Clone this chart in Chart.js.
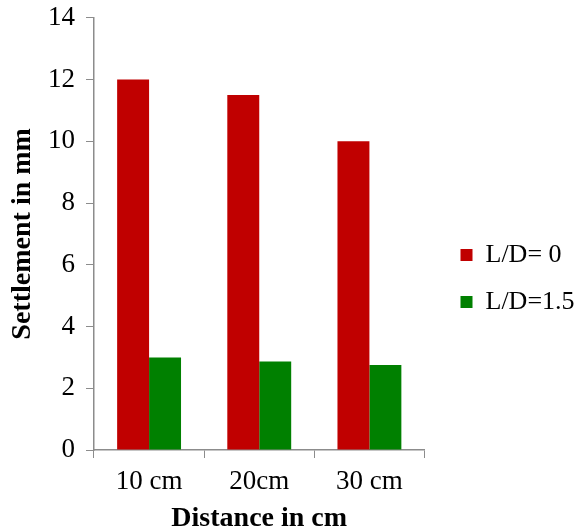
<!DOCTYPE html>
<html lang="en">
<head>
    <meta charset="UTF-8">
    <title>Settlement vs Distance</title>
    <style>
        body { margin: 0; background: #fff; }
        #wrap { width: 576px; height: 531px; }
    </style>
</head>
<body>
<div id="wrap"><canvas id="chart" width="576" height="531"></canvas></div>

<script src="https://cdn.jsdelivr.net/npm/chart.js"></script>
<script>
    const categories = ['10 cm', '20cm', '30 cm'];
    const ld0 = [12, 11.5, 10];
    const ld15 = [3.0, 2.87, 2.75];
    const yTicks = [0, 2, 4, 6, 8, 10, 12, 14];

    const serif = 'Liberation Serif, Times New Roman, serif';
    const axisGrey = '#8c8c8c';

    // nudge the legend block to the right / down after layout, keeps plot area where it is
    const legendNudge = {
        id: 'legendNudge',
        afterLayout(chart) {
            const lg = chart.legend;
            lg.left += 15; lg.right += 15;
            lg.top += 14; lg.bottom += 14;
        }
    };

    new Chart(document.getElementById('chart'), {
        type: 'bar',
        data: {
            labels: categories,
            datasets: [
                { label: 'L/D= 0', data: ld0, backgroundColor: '#c00000' },
                { label: 'L/D=1.5', data: ld15, backgroundColor: '#008000' }
            ]
        },
        plugins: [legendNudge],
        options: {
            responsive: false,
            animation: false,
            layout: { padding: { top: -4, right: 10, bottom: -2, left: 0 } },
            datasets: {
                bar: { categoryPercentage: 0.58, barPercentage: 1 }
            },
            plugins: {
                tooltip: { enabled: false },
                legend: {
                    position: 'right',
                    labels: {
                        color: '#000',
                        font: { family: serif, size: 26 },
                        boxWidth: 12,
                        boxHeight: 12,
                        padding: 21
                    }
                }
            },
            scales: {
                x: {
                    grid: { drawOnChartArea: false, color: axisGrey, tickLength: 8, offset: true },
                    border: { color: axisGrey, width: 1.5 },
                    ticks: { color: '#000', font: { family: serif, size: 27, lineHeight: 1 }, padding: 10 },
                    title: {
                        display: true,
                        text: 'Distance in cm',
                        color: '#000',
                        font: { family: serif, size: 28, weight: 'bold', lineHeight: 1 },
                        padding: { top: 0, bottom: 0 }
                    }
                },
                y: {
                    min: 0,
                    max: 14,
                    afterBuildTicks: axis => { axis.ticks = yTicks.map(v => ({ value: v })); },
                    grid: { drawOnChartArea: false, color: axisGrey, tickLength: 8 },
                    border: { color: axisGrey, width: 1.5 },
                    ticks: { color: '#000', font: { family: serif, size: 27, lineHeight: 0.5 }, padding: 11 },
                    title: {
                        display: true,
                        text: 'Settlement in mm',
                        color: '#000',
                        font: { family: serif, size: 28, weight: 'bold', lineHeight: 1 },
                        padding: { top: 9, bottom: 0 }
                    }
                }
            }
        }
    });
</script>
</body>
</html>
